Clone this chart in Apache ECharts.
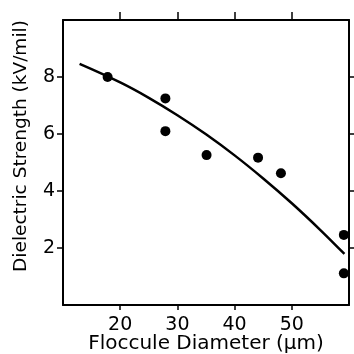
<!DOCTYPE html>
<html>
<head>
<meta charset="utf-8">
<script src="https://cdn.jsdelivr.net/npm/echarts@6/dist/echarts.min.js"></script>
<style>
  html, body { margin: 0; padding: 0; background: #fff; }
  #chart { width: 354px; height: 354px; }
</style>
</head>
<body>
<div id="chart"></div>
<script>
// Measured samples: floccule diameter (µm) vs dielectric strength (kV/mil)
const diameters = [17.8, 27.9, 27.9, 35.1, 44.1, 48.1, 59.1, 59.1];
const strengths = [8.0, 7.25, 6.1, 5.26, 5.17, 4.62, 2.46, 1.11];

// Fitted trend curve
const fitDiameters = [12.9, 20, 25, 30, 35, 40, 45, 50, 55, 59.2];
const fitStrengths = [8.46, 7.81, 7.27, 6.66, 5.99, 5.25, 4.44, 3.57, 2.63, 1.79];

const xTicks = [20, 30, 40, 50];
const yTicks = [2, 4, 6, 8];

const font = 'DejaVu Sans';
const ink = '#000';

const chart = echarts.init(document.getElementById('chart'), null, { renderer: 'canvas' });

const scatterData = diameters.map((d, i) => [d, strengths[i]]);
const fitData = fitDiameters.map((d, i) => [d, fitStrengths[i]]);

const baseX = {
  type: 'value', min: 10, max: 60, interval: 10,
  splitLine: { show: false },
  axisLine: { show: true, onZero: false, lineStyle: { color: ink, width: 2 } }
};
const baseY = {
  type: 'value', min: 0, max: 10, interval: 2,
  splitLine: { show: false },
  axisLine: { show: true, onZero: false, lineStyle: { color: ink, width: 2 } }
};

chart.setOption({
  animation: false,
  backgroundColor: '#fff',
  grid: { left: 63, right: 5, top: 20, bottom: 49, containLabel: false, outerBoundsMode: 'none' },
  xAxis: [
    Object.assign({}, baseX, {
      position: 'bottom',
      name: 'Floccule Diameter (μm)',
      nameLocation: 'middle',
      nameGap: 29,
      nameMoveOverlap: false,
      nameTextStyle: { color: ink, fontFamily: font, fontSize: 20 },
      axisTick: { show: true, length: 5, inside: false, customValues: xTicks, lineStyle: { color: ink, width: 1.5 } },
      axisLabel: { show: true, customValues: xTicks, margin: 11, color: ink, fontFamily: font, fontSize: 19 }
    }),
    Object.assign({}, baseX, {
      position: 'top',
      axisTick: { show: true, length: 8, inside: false, customValues: xTicks, lineStyle: { color: ink, width: 1.5 } },
      axisLabel: { show: false }
    })
  ],
  yAxis: [
    Object.assign({}, baseY, {
      position: 'left',
      name: 'Dielectric Strength (kV/mil)',
      nameLocation: 'middle',
      nameGap: 32,
      nameMoveOverlap: false,
      nameRotate: 90,
      nameTextStyle: { color: ink, fontFamily: font, fontSize: 18.5, padding: [0, 0, 0, 33] },
      axisTick: { show: true, length: 6, inside: false, customValues: yTicks, lineStyle: { color: ink, width: 1.5 } },
      axisLabel: { show: true, customValues: yTicks, margin: 8, color: ink, fontFamily: font, fontSize: 19 }
    }),
    Object.assign({}, baseY, {
      position: 'right',
      axisTick: { show: true, length: 6, inside: false, customValues: yTicks, lineStyle: { color: ink, width: 1.5 } },
      axisLabel: { show: false }
    })
  ],
  series: [
    {
      type: 'line',
      xAxisIndex: 0, yAxisIndex: 0,
      data: fitData,
      smooth: 0.4,
      showSymbol: false,
      lineStyle: { color: ink, width: 2.5 },
      z: 2
    },
    {
      type: 'scatter',
      xAxisIndex: 0, yAxisIndex: 0,
      data: scatterData,
      symbol: 'circle',
      symbolSize: 10,
      itemStyle: { color: ink, opacity: 1 },
      z: 3
    }
  ]
});
</script>
</body>
</html>
